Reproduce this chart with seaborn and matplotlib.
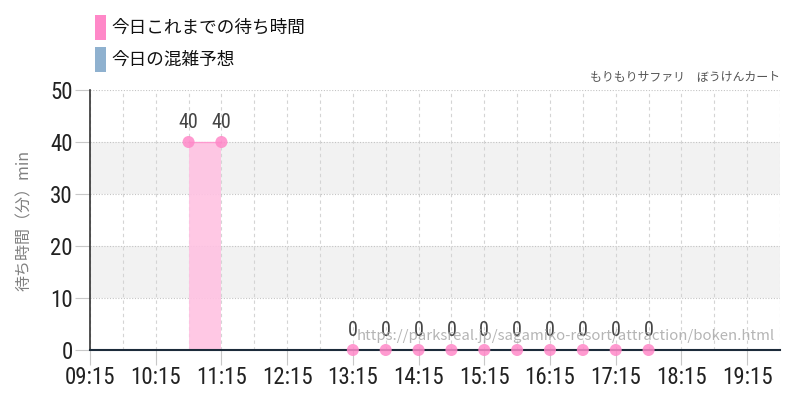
import datetime as dt
import matplotlib
matplotlib.use("Agg")
import matplotlib.pyplot as plt
import matplotlib.dates as mdates
from matplotlib import font_manager
from matplotlib.patches import Rectangle
import pandas as pd
import seaborn as sns

# data
times = ["10:45", "11:15", "13:15", "13:45", "14:15", "14:45",
         "15:15", "15:45", "16:15", "16:45", "17:15", "17:45"]
waits = [40, 40, 0, 0, 0, 0, 0, 0, 0, 0, 0, 0]
legend_labels = ["今日これまでの待ち時間", "今日の混雑予想"]
title_right = "もりもりサファリ　ぼうけんカート"
watermark = "https://parksreal.jp/sagamiko-resort/attraction/boken.html"
ylabel = "待ち時間（分）min"

pink = "#ff88c8"
pink_fill = "#ffc2e2"
blue = "#8fb1cf"

day = dt.date(2024, 1, 1)
df = pd.DataFrame({
    "time": [dt.datetime.combine(day, dt.time(*map(int, t.split(":")))) for t in times],
    "wait": waits,
})
# split into runs wherever the gap is more than 30 minutes
df["seg"] = (df["time"].diff() > pd.Timedelta(minutes=30)).cumsum()

sns.set_theme(style="white")
plt.rcParams["font.family"] = ["Noto Sans CJK JP", "DejaVu Sans"]

# look for a narrow face for the numbers
num_font, num_stretch = "Roboto", "normal"
for f in font_manager.fontManager.ttflist:
    if f.name in ("Roboto Condensed", "Liberation Sans Narrow", "Open Sans Condensed"):
        num_font, num_stretch = f.name, "normal"
        break
else:
    for f in font_manager.fontManager.ttflist:
        if f.name in ("Roboto", "DejaVu Sans", "Open Sans", "Noto Sans") and \
                str(f.stretch) in ("condensed", "semi-condensed", "75", "87.5"):
            num_font, num_stretch = f.name, "condensed"
            break
num_fp = dict(family=[num_font, "DejaVu Sans"], stretch=num_stretch)

fig = plt.figure(figsize=(8, 4), dpi=100)
ax = fig.add_axes([0.1125, 0.125, 0.8625, 0.65])

x0 = dt.datetime.combine(day, dt.time(9, 15))
x1 = dt.datetime.combine(day, dt.time(19, 45))
ax.set_xlim(x0, x1)
ax.set_ylim(0, 50)

# light bands
for lo, hi in [(10, 20), (30, 40)]:
    ax.axhspan(lo, hi, color="#f2f2f2", zorder=0, lw=0)

# vertical dashed grid every 30 min
for t in pd.date_range(x0, x1, freq="30min"):
    ax.axvline(t, color="#d4d4d4", lw=0.8, ls=(0, (3, 3)), zorder=0.5)
for yv in range(10, 51, 10):
    ax.axhline(yv, color="#c4c4c4", lw=0.8, ls=(0, (1, 1.5)), zorder=0.5)

for _, g in df.groupby("seg"):
    ax.fill_between(g["time"], 0, g["wait"], color=pink_fill, alpha=0.9, lw=0, zorder=1)
    sns.lineplot(data=g, x="time", y="wait", ax=ax, color=pink, lw=1, alpha=0.7,
                 zorder=2, legend=False)
sns.scatterplot(data=df, x="time", y="wait", ax=ax, color=pink, s=75, alpha=0.85,
                edgecolor="none", zorder=3, legend=False, clip_on=False)

for t, w in zip(df["time"], df["wait"]):
    ax.text(t, w + 1.9, str(w), ha="center", va="bottom", fontsize=14.5,
            color="#444444", zorder=4, **num_fp)

ax.text(0.993, 0.052, watermark, transform=ax.transAxes, ha="right", va="center",
        fontsize=10.8, color="#a8a8a8", alpha=0.85, zorder=5)
fig.text(0.975, 0.8075, title_right, ha="right", va="center", fontsize=8.6, color="#555555")

ax.xaxis.set_major_locator(mdates.MinuteLocator(byminute=[15]))
ax.xaxis.set_major_formatter(mdates.DateFormatter("%H:%M"))
ax.set_yticks(range(0, 51, 10))
ax.tick_params(axis="both", which="major", length=10.5, width=0.8, color="#c8c8c8",
               labelsize=16.5, labelcolor="#222222", pad=2, direction="out",
               bottom=True, left=True)
ax.tick_params(axis="x", pad=1)
for lab in ax.get_xticklabels() + ax.get_yticklabels():
    lab.set_family(num_fp["family"])
    lab.set_stretch(num_fp["stretch"])

ax.set_xlabel("")
ax.set_ylabel(ylabel, fontsize=11.5, color="#808080", labelpad=12)

for s in ["top", "right"]:
    ax.spines[s].set_visible(False)
ax.spines["left"].set_color("#333333")
ax.spines["left"].set_linewidth(1.2)
ax.spines["bottom"].set_color("#1c2b3a")
ax.spines["bottom"].set_linewidth(1.5)
ax.spines["bottom"].set_zorder(2.5)

# legend swatches
for i, (lab, col) in enumerate(zip(legend_labels, [pink, blue])):
    ytop = 15 + i * 32
    fig.add_artist(Rectangle((95 / 800, 1 - (ytop + 25) / 400), 11 / 800, 25 / 400,
                             transform=fig.transFigure, color=col, lw=0))
    fig.text(111 / 800, 1 - (ytop + 13) / 400, lab, ha="left", va="center",
             fontsize=12.7, color="#111111")

fig.savefig("out.png", dpi=100)
